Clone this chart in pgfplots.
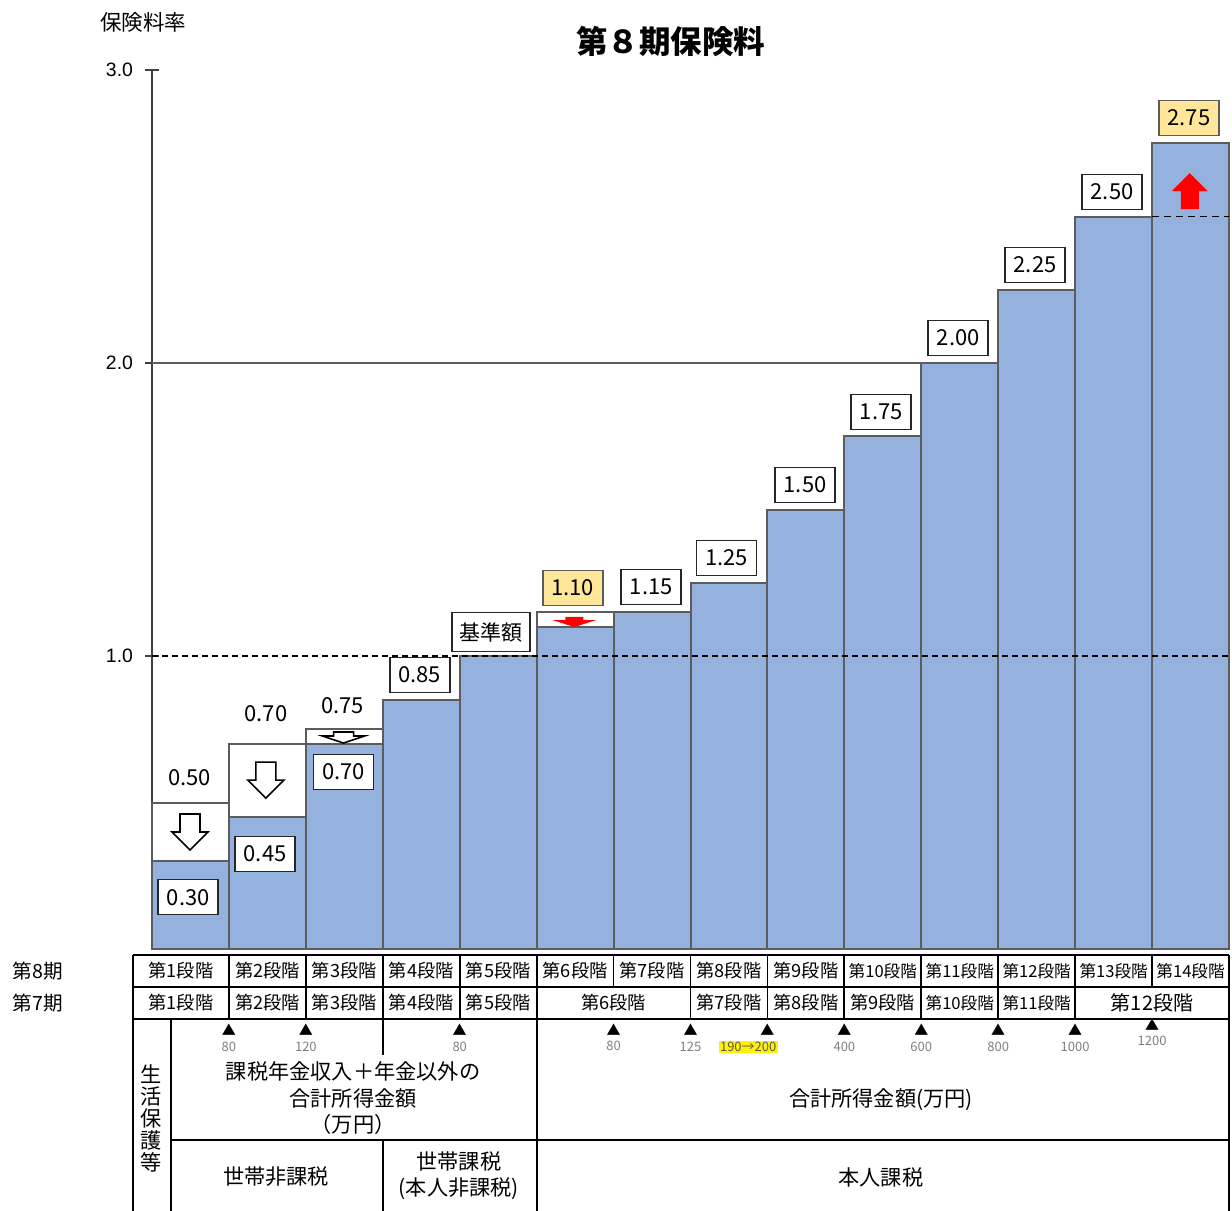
\documentclass[border=0pt]{standalone}
\usepackage{fontspec}
\setmainfont{Noto Sans CJK JP}
\newfontfamily\arialf{Liberation Sans}
\usepackage{pgfplots}
\pgfplotsset{compat=1.18}
\definecolor{barblue}{HTML}{95B1DD}
\definecolor{bgray}{HTML}{5C5C5C}
\definecolor{byellow}{HTML}{FFE699}
\definecolor{numgray}{HTML}{7F7F7F}
\newcommand\vf{\fontsize{11}{13}\selectfont}
\newcommand\tf{\fontsize{9.1}{10}\selectfont}
\newcommand\tfs{\fontsize{8.3}{9}\selectfont}
\newcommand\mf{\fontsize{10.6}{13}\selectfont}
\newcommand\nf{\fontsize{6.5}{7}\selectfont}
\tikzset{
  vbox/.style={draw=black!85, line width=0.8pt, fill=white, minimum width=30pt, minimum height=17.5pt, inner sep=1pt, font=\vf},
  ybox/.style={vbox, fill=byellow, draw=bgray},
}
\begin{document}
\begin{tikzpicture}
\begin{axis}[
  scale only axis, width=538.5pt, height=439.5pt,
  xmin=0, xmax=14, ymin=0, ymax=3,
  axis x line=none, axis y line*=left,
  ytick={1,2,3}, xtick=\empty,
  clip=false,
  axis line style={draw=black!75, line width=1pt},
  major tick length=7pt, tick align=center,
  tick style={black!75, line width=1pt},
  /pgf/number format/assume math mode=true,
  yticklabel style={font=\arialf\fontsize{9.7}{11}\selectfont, /pgf/number format/fixed, /pgf/number format/fixed zerofill, /pgf/number format/precision=1, xshift=-2.5pt},
]
% grid line at 2.0
\addplot[bgray, line width=1.1pt] coordinates {(0,2) (10.76,2)};
% previous (7th period) levels
\addplot[ybar interval, fill=white, draw=bgray, line width=1pt] coordinates {(0,0.50) (1,0.70) (2,0.75) (3,0.75)};
\addplot[ybar interval, fill=white, draw=bgray, line width=1pt] coordinates {(5,1.15) (6,1.15)};
% 8th period
\addplot[ybar interval, fill=barblue, draw=bgray, line width=1pt] coordinates {
(0,0.30) (1,0.45) (2,0.70) (3,0.85) (4,1.00) (5,1.10) (6,1.15) (7,1.25)
(8,1.50) (9,1.75) (10,2.00) (11,2.25) (12,2.50) (13,2.75) (14,2.75)};
\addplot[black, line width=0.8pt, dash pattern=on 3pt off 2pt] coordinates {(0,1) (14,1)};
\addplot[black, line width=0.9pt, dash pattern=on 3.5pt off 2.5pt] coordinates {(13,2.5) (14,2.5)};

% arrows
\draw[fill=white, draw=black, line width=0.8pt] (0.494,0.338) -- ++(-9pt,9pt) -- ++(4pt,0) -- ++(0,9pt) -- ++(10pt,0) -- ++(0,-9pt) -- ++(4pt,0) -- cycle;
\draw[fill=white, draw=black, line width=0.8pt] (1.48,0.515) -- ++(-9pt,9pt) -- ++(4pt,0) -- ++(0,9pt) -- ++(10pt,0) -- ++(0,-9pt) -- ++(4pt,0) -- cycle;
\draw[fill=white, draw=black, line width=0.8pt] (2.49,0.703) -- ++(-10.5pt,3.5pt) -- ++(5.5pt,0) -- ++(0,2pt) -- ++(10pt,0) -- ++(0,-2pt) -- ++(5.5pt,0) -- cycle;
\fill[red] (5.49,1.099) -- ++(-11pt,3.5pt) -- ++(6.5pt,0) -- ++(0,1.6pt) -- ++(9pt,0) -- ++(0,-1.6pt) -- ++(6.5pt,0) -- cycle;
\fill[red] (13.49,2.648) -- ++(-9pt,-9pt) -- ++(4.5pt,0) -- ++(0,-9pt) -- ++(9pt,0) -- ++(0,9pt) -- ++(4.5pt,0) -- cycle;

% value labels
\node[vbox] at (0.47,0.177) {0.30};
\node[font=\vf] at (0.49,0.584) {0.50};
\node[vbox] at (1.47,0.324) {0.45};
\node[font=\vf] at (1.48,0.802) {0.70};
\node[font=\vf] at (2.48,0.829) {0.75};
\node[vbox] at (2.49,0.604) {0.70};
\node[vbox] at (3.48,0.935) {0.85};
\node[vbox, minimum width=39pt, minimum height=19.5pt, font=\fontsize{10.5}{12}\selectfont] at (4.41,1.082) {基準額};
\node[ybox] at (5.47,1.232) {1.10};
\node[vbox] at (6.49,1.235) {1.15};
\node[vbox] at (7.47,1.334) {1.25};
\node[vbox] at (8.49,1.584) {1.50};
\node[vbox] at (9.48,1.833) {1.75};
\node[vbox] at (10.48,2.085) {2.00};
\node[vbox] at (11.48,2.334) {2.25};
\node[vbox] at (12.48,2.584) {2.50};
\node[ybox] at (13.48,2.836) {2.75};

% titles
\node[font=\bfseries\fontsize{15.75}{18}\selectfont] at (6.746,3.099) {第８期保険料};
\node[font=\fontsize{10.75}{12}\selectfont] at (-0.117,3.164) {保険料率};

% table lines
\draw[line width=0.9pt] (-0.247,-0.0205) -- (14,-0.0205);
\draw[line width=0.9pt] (-0.247,-0.1297) -- (14,-0.1297);
\draw[line width=0.9pt] (-0.247,-0.2389) -- (14,-0.2389);
\draw[line width=0.9pt] (0.247,-0.6519) -- (14,-0.6519);
\draw[line width=0.9pt] (-0.247,-0.0205) -- (-0.247,-0.95);
\draw[line width=0.9pt] (14,-0.0205) -- (14,-0.95);
\pgfplotsinvokeforeach{1,...,13}{\draw[line width=0.9pt] (#1,-0.0205) -- (#1,-0.1297);}
\pgfplotsinvokeforeach{1,2,3,4,5,7,8,9,10,11,12}{\draw[line width=0.9pt] (#1,-0.1297) -- (#1,-0.2389);}
\draw[line width=0.9pt] (0.247,-0.2389) -- (0.247,-0.95);
\draw[line width=0.9pt] (3,-0.2389) -- (3,-0.36);
\draw[line width=0.9pt] (3,-0.6519) -- (3,-0.95);
\draw[line width=0.9pt] (5,-0.2389) -- (5,-0.95);

% row labels
\node[font=\fontsize{9.8}{11}\selectfont] at (-1.482,-0.075) {第8期};
\node[font=\fontsize{9.8}{11}\selectfont] at (-1.482,-0.184) {第7期};
% row 1
\node[font=\tf] at (0.376,-0.075) {第1段階};
\node[font=\tf] at (1.5,-0.075) {第2段階};
\node[font=\tf] at (2.5,-0.075) {第3段階};
\node[font=\tf] at (3.5,-0.075) {第4段階};
\node[font=\tf] at (4.5,-0.075) {第5段階};
\node[font=\tf] at (5.5,-0.075) {第6段階};
\node[font=\tf] at (6.5,-0.075) {第7段階};
\node[font=\tf] at (7.5,-0.075) {第8段階};
\node[font=\tf] at (8.5,-0.075) {第9段階};
\node[font=\tfs] at (9.5,-0.075) {第10段階};
\node[font=\tfs] at (10.5,-0.075) {第11段階};
\node[font=\tfs] at (11.5,-0.075) {第12段階};
\node[font=\tfs] at (12.5,-0.075) {第13段階};
\node[font=\tfs] at (13.5,-0.075) {第14段階};
% row 2
\node[font=\tf] at (0.376,-0.184) {第1段階};
\node[font=\tf] at (1.5,-0.184) {第2段階};
\node[font=\tf] at (2.5,-0.184) {第3段階};
\node[font=\tf] at (3.5,-0.184) {第4段階};
\node[font=\tf] at (4.5,-0.184) {第5段階};
\node[font=\tf] at (6,-0.184) {第6段階};
\node[font=\tf] at (7.5,-0.184) {第7段階};
\node[font=\tf] at (8.5,-0.184) {第8段階};
\node[font=\tf] at (9.5,-0.184) {第9段階};
\node[font=\tfs] at (10.5,-0.184) {第10段階};
\node[font=\tfs] at (11.5,-0.184) {第11段階};
\node[font=\fontsize{10}{11}\selectfont] at (13,-0.184) {第12段階};

% row 3 markers
\pgfplotsinvokeforeach{1,2,4,6,7,8,9,10,11,12}{\node[font=\fontsize{7}{8}\selectfont, inner sep=0pt] at (#1,-0.276) {▲};}
\node[font=\fontsize{7}{8}\selectfont, inner sep=0pt] at (13,-0.259) {▲};
\node[font=\nf, text=numgray, inner sep=0pt] at (1,-0.334) {80};
\node[font=\nf, text=numgray, inner sep=0pt] at (2,-0.334) {120};
\node[font=\nf, text=numgray, inner sep=0pt] at (4,-0.334) {80};
\node[font=\nf, text=numgray, inner sep=0pt] at (6,-0.331) {80};
\node[font=\nf, text=numgray, inner sep=0pt] at (7,-0.334) {125};
\node[font=\nf, text=numgray!70!black, fill=yellow, inner sep=0.6pt] at (7.75,-0.334) {190→200};
\node[font=\nf, text=numgray, inner sep=0pt] at (9,-0.334) {400};
\node[font=\nf, text=numgray, inner sep=0pt] at (10,-0.334) {600};
\node[font=\nf, text=numgray, inner sep=0pt] at (11,-0.334) {800};
\node[font=\nf, text=numgray, inner sep=0pt] at (12,-0.334) {1000};
\node[font=\nf, text=numgray, inner sep=0pt] at (13,-0.314) {1200};

% row 3/4 texts
\node[font=\mf, align=center, inner sep=0pt] at (2.613,-0.509) {課税年金収入＋年金以外の\\[0.2pt]合計所得金額\\[0.2pt]（万円）};
\node[font=\mf] at (9.476,-0.515) {合計所得金額(万円)};
\node[font=\mf] at (1.612,-0.778) {世帯非課税};
\node[font=\mf, align=center, inner sep=0pt] at (3.99,-0.775) {世帯課税\\(本人非課税)};
\node[font=\mf] at (9.476,-0.778) {本人課税};
\node[font=\mf, align=center, inner sep=0pt] at (-0.013,-0.577) {生\\[-2pt]活\\[-2pt]保\\[-2pt]護\\[-2pt]等};

\coordinate (BL) at (-1.976,-0.8908);
\coordinate (TR) at (14.039,3.239);
\end{axis}
\pgfresetboundingbox
\path[use as bounding box] (BL) rectangle (TR);
\end{tikzpicture}
\end{document}
